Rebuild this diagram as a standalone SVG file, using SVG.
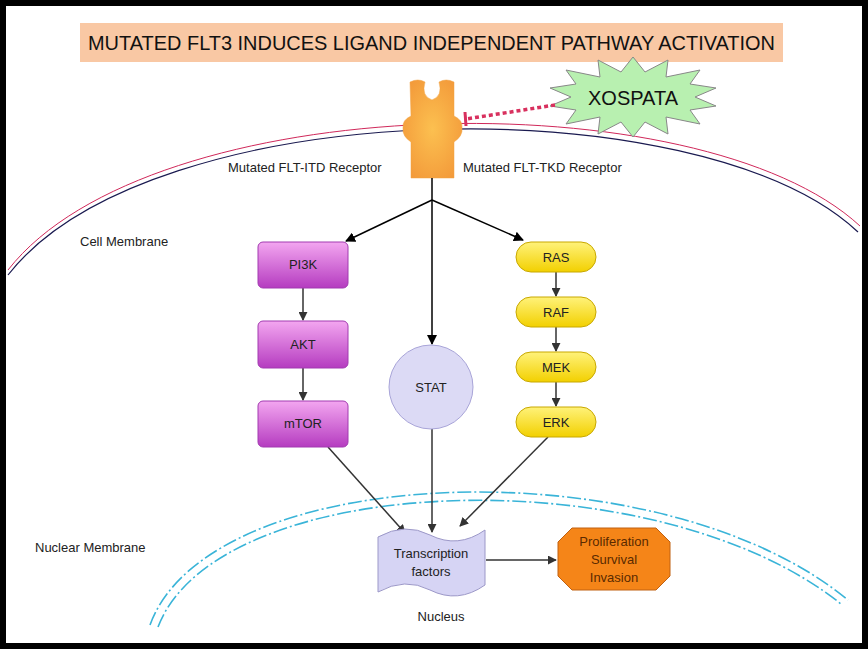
<svg xmlns="http://www.w3.org/2000/svg" width="868" height="649" viewBox="0 0 868 649">
<defs>
<linearGradient id="mag" x1="0" y1="0" x2="0" y2="1"><stop offset="0" stop-color="#f3a6f0"/><stop offset="1" stop-color="#b53cc0"/></linearGradient>
<linearGradient id="yel" x1="0" y1="0" x2="0" y2="1"><stop offset="0" stop-color="#fff27a"/><stop offset="1" stop-color="#f2d000"/></linearGradient>
<radialGradient id="org" cx="0.5" cy="0.5" r="0.6"><stop offset="0" stop-color="#fcc050"/><stop offset="1" stop-color="#f39a3a"/></radialGradient>
<marker id="ah" viewBox="0 0 10 10" refX="9" refY="5" markerWidth="10" markerHeight="10" markerUnits="userSpaceOnUse" orient="auto"><path d="M0,0 L10,5 L0,10 z" fill="#000"/></marker>
<marker id="ah2" viewBox="0 0 10 10" refX="9" refY="5" markerWidth="9" markerHeight="9" markerUnits="userSpaceOnUse" orient="auto"><path d="M0,0 L10,5 L0,10 z" fill="#333"/></marker>
</defs>
<style>
text{font-family:"Liberation Sans",Arial,sans-serif;font-size:13px;fill:#222}
.c{text-anchor:middle}
.mag{fill:url(#mag);stroke:#a23ab0;stroke-width:1}
.yel{fill:url(#yel);stroke:#c8a800;stroke-width:1}
.e{stroke:#000;stroke-width:1.5;fill:none;marker-end:url(#ah)}
.e2{stroke:#333;stroke-width:1.5;fill:none;marker-end:url(#ah2)}
.nm{fill:none;stroke:#3ab4d8;stroke-width:1.6;stroke-dasharray:14 3 2 3}
</style>
<rect x="0" y="0" width="868" height="649" fill="#000"/>
<rect x="6" y="6" width="856" height="637" fill="#fff"/>
<g id="title"><rect x="80" y="23" width="703" height="39" fill="#f9c8a4"/><text x="88" y="50" textLength="687" lengthAdjust="spacingAndGlyphs" style="font-size:21px;fill:#111">MUTATED FLT3 INDUCES LIGAND INDEPENDENT PATHWAY ACTIVATION</text></g>
<g id="cell-membrane">
<path d="M8,270 C150,88 700,78 860,226" fill="none" stroke="#d0285a" stroke-width="1"/>
<path d="M8,275 C150,93 700,84 858,232" fill="none" stroke="#1a1a50" stroke-width="1.2"/>
<text x="80" y="246">Cell Membrane</text></g>
<g id="nuclear-membrane">
<path class="nm" d="M150,625 C210,460 660,445 848,600"/>
<path class="nm" d="M158,627 C218,470 655,455 841,604"/>
<text x="35" y="552">Nuclear Membrane</text>
<text x="441" y="621" class="c">Nucleus</text></g>
<g id="receptor">
<path d="M410,82 Q418,78 425,82 Q421,96 432,100 Q443,96 439,82 Q446,78 454,82 L454,116 Q463,120 462,128 Q463,136 454,142 L454,178 L411,178 L411,142 Q402,136 403,128 Q402,120 411,116 Z" fill="url(#org)" stroke="#f0a040" stroke-width="0.5"/>
<text x="228" y="172">Mutated FLT-ITD Receptor</text>
<text x="463" y="172">Mutated FLT-TKD Receptor</text></g>
<g id="xospata">
<polygon points="633,57 645,72 668,60 666,77 700,70 690,84 716,88 695,97 716,106 690,110 700,124 666,117 668,134 645,122 633,137 621,122 598,134 600,117 566,124 576,110 550,106 571,97 550,88 576,84 566,70 600,77 598,60 621,72" fill="#b8f0b0" stroke="#888" stroke-width="1"/>
<text x="633" y="105" class="c" style="font-size:20px;fill:#111">XOSPATA</text></g>
<g id="connectors">
<line x1="555" y1="105" x2="466" y2="119" stroke="#d8305e" stroke-width="3.5" stroke-dasharray="4 3"/>
<line x1="465" y1="112" x2="466" y2="126" stroke="#d8305e" stroke-width="3"/>
<polyline points="432,178 432,200" stroke="#000" stroke-width="1.5" fill="none"/>
<line class="e" x1="432" y1="200" x2="346" y2="241"/>
<line class="e" x1="432" y1="200" x2="432" y2="344"/>
<line class="e" x1="432" y1="200" x2="523" y2="240"/>
<line class="e2" x1="303" y1="288" x2="303" y2="320"/>
<line class="e2" x1="303" y1="368" x2="303" y2="400"/>
<line class="e2" x1="556" y1="272" x2="556" y2="296"/>
<line class="e2" x1="556" y1="327" x2="556" y2="351"/>
<line class="e2" x1="556" y1="382" x2="556" y2="406"/>
<line class="e2" x1="328" y1="447" x2="405" y2="533"/>
<line class="e2" x1="432" y1="429" x2="432" y2="532"/>
<line class="e2" x1="548" y1="437" x2="460" y2="526"/>
<line class="e2" x1="486" y1="560" x2="556" y2="560"/>
</g>
<g id="pi3k"><rect class="mag" x="258" y="242" width="90" height="46" rx="5"/><text x="303" y="269" class="c">PI3K</text></g>
<g id="akt"><rect class="mag" x="258" y="321" width="90" height="47" rx="5"/><text x="303" y="349" class="c">AKT</text></g>
<g id="mtor"><rect class="mag" x="258" y="401" width="90" height="46" rx="5"/><text x="303" y="428" class="c">mTOR</text></g>
<g id="stat"><circle cx="431" cy="387" r="42" fill="#dcdaf5" stroke="#a8a4d8"/><text x="431" y="392" class="c">STAT</text></g>
<g id="ras"><rect class="yel" x="516" y="242" width="80" height="30" rx="15"/><text x="556" y="262" class="c">RAS</text></g>
<g id="raf"><rect class="yel" x="516" y="297" width="80" height="30" rx="15"/><text x="556" y="317" class="c">RAF</text></g>
<g id="mek"><rect class="yel" x="516" y="352" width="80" height="30" rx="15"/><text x="556" y="372" class="c">MEK</text></g>
<g id="erk"><rect class="yel" x="516" y="407" width="80" height="30" rx="15"/><text x="556" y="427" class="c">ERK</text></g>
<g id="tf"><path d="M378,537 Q405,522 430,535 Q458,549 485,530 L485,585 Q458,604 430,590 Q405,577 378,592 Z" fill="#d6d4f4" stroke="#9c98c8"/><text x="431" y="558" class="c">Transcription</text><text x="431" y="576" class="c">factors</text></g>
<g id="outcome"><polygon points="572,528 656,528 670,542 670,576 656,590 572,590 558,576 558,542" fill="#f58518" stroke="#c06010"/><text x="614" y="546" class="c" style="fill:#5a2a00">Proliferation</text><text x="614" y="564" class="c" style="fill:#5a2a00">Survival</text><text x="614" y="582" class="c" style="fill:#5a2a00">Invasion</text></g>
</svg>
